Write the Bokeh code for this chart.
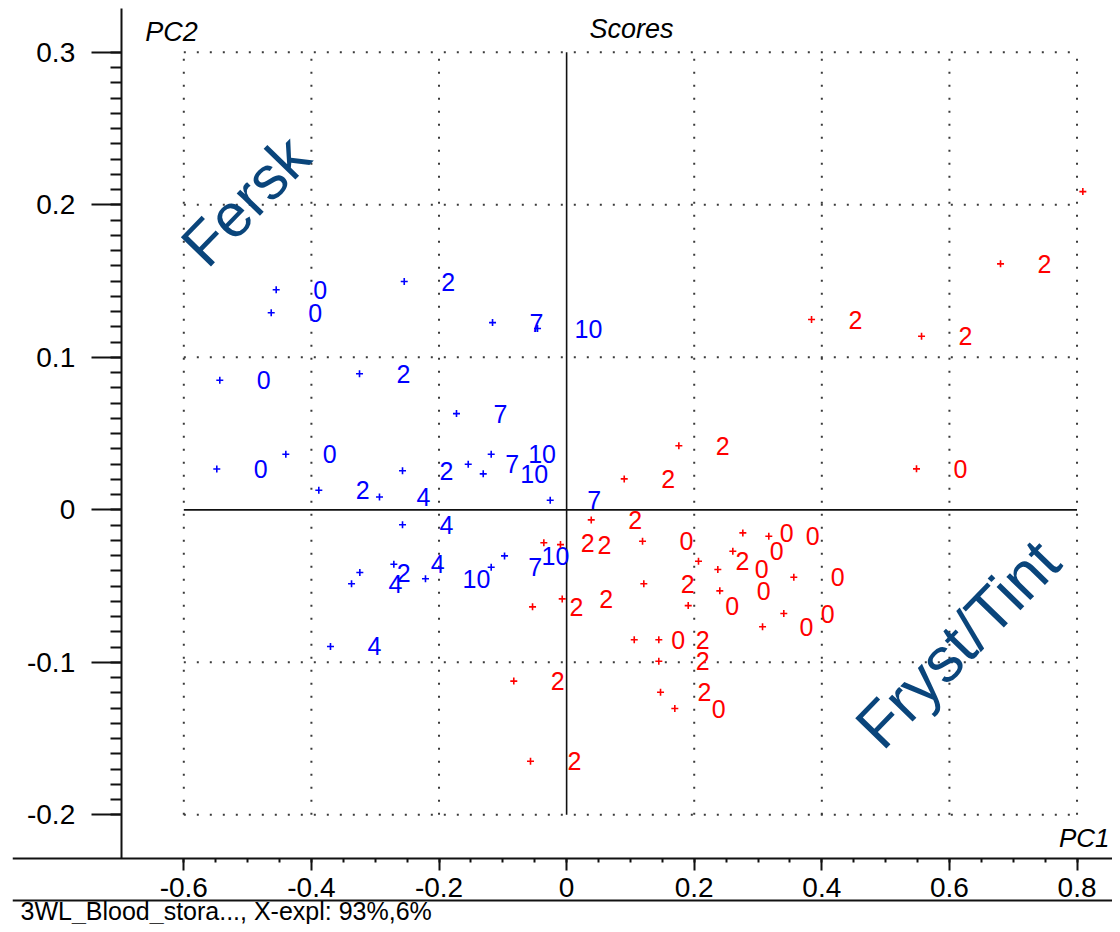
import numpy as np
from bokeh.plotting import figure
from bokeh.models import LinearAxis, FixedTicker, Range1d, Label, Span, ColumnDataSource
from bokeh.core.properties import value
from bokeh.embed import file_html
from bokeh.resources import INLINE

# ---------------- data (PCA scores, PC1 / PC2) ----------------
fresh_pc1 = [-0.4552, -0.4630, -0.2545, -0.5436, -0.3246, -0.4401, -0.5483, -0.2572,
             -0.3884, -0.2933, -0.1542, -0.1307, -0.1182, -0.0257, -0.2572, -0.3241,
             -0.3371, -0.2708, -0.2212, -0.1182, -0.0973, -0.3701, -0.1161, -0.0456,
             -0.1726]
fresh_pc2 = [0.1443, 0.1292, 0.1497, 0.0850, 0.0892, 0.0365, 0.0268, 0.0256,
             0.0129, 0.0084, 0.0299, 0.0236, 0.0365, 0.0063, -0.0098, -0.0411,
             -0.0485, -0.0357, -0.0452, -0.0376, -0.0302, -0.0896, 0.1228, 0.1189,
             0.0631]
fresh_names = ["0", "0", "2", "0", "2", "0", "0", "2",
               "2", "4", "7", "10", "10", "7", "4", "2",
               "4", "4", "10", "7", "10", "4", "7", "10",
               "7"]

frozen_pc1 = [0.8091, 0.6801, 0.3839, 0.5563, 0.1759, 0.0903, 0.5484, 0.0386,
              -0.0357, -0.0096, 0.1190, 0.2067, 0.2762, 0.3169, 0.2605, 0.2370,
              0.3561, 0.2401, 0.1210, 0.1906, 0.3404, 0.3071, -0.0069, -0.0534,
              0.1060, 0.1445, 0.1445, -0.0828, 0.1472, 0.1696, -0.0566]
frozen_pc2 = [0.2087, 0.1613, 0.1248, 0.1138, 0.0420, 0.0203, 0.0269, -0.0066,
              -0.0216, -0.0228, -0.0206, -0.0337, -0.0151, -0.0173, -0.0271, -0.0391,
              -0.0442, -0.0531, -0.0485, -0.0628, -0.0680, -0.0767, -0.0584, -0.0636,
              -0.0852, -0.0852, -0.0993, -0.1123, -0.1196, -0.1303, -0.1649]
frozen_names = ["2", "2", "2", "2", "2", "2", "0", "2",
                "2", "2", "0", "2", "0", "0", "0", "0",
                "0", "0", "2", "0", "0", "0", "2", "2",
                "0", "2", "2", "2", "2", "0", "2"]

x_ticks = [-0.6, -0.4, -0.2, 0.0, 0.2, 0.4, 0.6, 0.8]
x_tick_labels = ["-0.6", "-0.4", "-0.2", "0", "0.2", "0.4", "0.6", "0.8"]
y_ticks = [-0.2, -0.1, 0.0, 0.1, 0.2, 0.3]
y_tick_labels = ["-0.2", "-0.1", "0", "0.1", "0.2", "0.3"]
grid_x = [-0.6, -0.4, -0.2, 0.2, 0.4, 0.6, 0.8]
grid_y = [-0.2, -0.1, 0.1, 0.2, 0.3]

title_text = "Scores"
x_name = "PC1"
y_name = "PC2"
footer_text = "3WL_Blood_stora..., X-expl: 93%,6%"
group_notes = ["Fersk", "Fryst/Tint"]

# ---------------- layout constants ----------------
X0, X1 = -0.8685, 0.8556
Y0, Y1 = -0.2719, 0.3340
YAXIS_TOP = 0.3287
XAXIS_Y = -0.2285      # where the PC1 axis is drawn
YAXIS_X = -0.6981      # where the PC2 axis is drawn
FOOT_Y = -0.2562
BLUE = "#0000ff"
RED = "#ff0000"
NOTE = "#0a457b"
INK = "#000000"
FONT = "Liberation Sans"

p = figure(width=1112, height=924, x_range=Range1d(X0, X1), y_range=Range1d(Y0, Y1),
           output_backend="svg", toolbar_location=None,
           x_axis_location=None, y_axis_location=None,
           min_border_left=12, min_border_right=0, min_border_top=0, min_border_bottom=0)
p.xgrid.grid_line_color = None
p.ygrid.grid_line_color = None
p.outline_line_color = None
p.background_fill_color = "white"
p.border_fill_color = "white"

# dotted grid within the tick box
gx_lo, gx_hi = x_ticks[0], x_ticks[-1]
gy_lo, gy_hi = y_ticks[0], y_ticks[-1]
p.segment(x0=grid_x, y0=[gy_lo] * len(grid_x), x1=grid_x, y1=[gy_hi] * len(grid_x),
          line_color="#3a3a3a", line_width=2, line_dash="2 11")
p.segment(x0=[gx_lo] * len(grid_y), y0=grid_y, x1=[gx_hi] * len(grid_y), y1=grid_y,
          line_color="#3a3a3a", line_width=2, line_dash="2 11")
# zero lines
p.segment(x0=[0.0, gx_lo], y0=[gy_lo, 0.0], x1=[0.0, gx_hi], y1=[gy_hi, 0.0],
          line_color="#111111", line_width=1.6)

# axes
xaxis = LinearAxis(fixed_location=XAXIS_Y,
                   ticker=FixedTicker(ticks=x_ticks,
                                      minor_ticks=[float(v) for v in np.round(np.arange(-0.6, 0.8001, 0.05), 2)]),
                   major_label_overrides={t: s for t, s in zip(x_ticks, x_tick_labels)},
                   axis_line_width=2, axis_line_color="#111111",
                   major_tick_out=12, major_tick_in=0, minor_tick_out=4, minor_tick_in=0,
                   major_tick_line_width=2, minor_tick_line_width=2,
                   major_tick_line_color="#111111", minor_tick_line_color="#111111",
                   major_label_text_font=FONT, major_label_text_font_size="28px",
                   major_label_text_color=INK, major_label_standoff=8)
p.add_layout(xaxis, "below")

yaxis = LinearAxis(fixed_location=YAXIS_X, bounds=(XAXIS_Y, YAXIS_TOP),
                   ticker=FixedTicker(ticks=y_ticks,
                                      minor_ticks=[float(v) for v in np.round(np.arange(-0.2, 0.3001, 0.01), 2)]),
                   major_label_overrides={t: s for t, s in zip(y_ticks, y_tick_labels)},
                   axis_line_width=2, axis_line_color="#111111",
                   major_tick_out=30, major_tick_in=0, minor_tick_out=11, minor_tick_in=0,
                   major_tick_line_width=2, minor_tick_line_width=2,
                   major_tick_line_color="#111111", minor_tick_line_color="#111111",
                   major_label_text_font=FONT, major_label_text_font_size="28px",
                   major_label_text_color=INK, major_label_standoff=16,
                   major_label_orientation="horizontal")
p.add_layout(yaxis, "left")

# footer separator and text
p.add_layout(Span(location=FOOT_Y, dimension="width", line_color="#111111", line_width=2))
p.add_layout(Label(x=-0.8560, y=-0.2630, text=footer_text, text_font=FONT,
                   text_font_size="25px", text_baseline="middle", text_align="left",
                   text_color=INK))

# titles
p.add_layout(Label(x=0.1017, y=0.3150, text=title_text, text_font=FONT, text_font_style="italic",
                   text_font_size="27px", text_align="center", text_baseline="middle", text_color=INK))
p.add_layout(Label(x=-0.6193, y=0.3136, text=y_name, text_font=FONT, text_font_style="italic",
                   text_font_size="27px", text_align="center", text_baseline="middle", text_color=INK))
p.add_layout(Label(x=0.8510, y=-0.2155, text=x_name, text_font=FONT, text_font_style="italic",
                   text_font_size="26px", text_align="right", text_baseline="middle", text_color=INK))

# score points
for xs, ys, names, col in [(fresh_pc1, fresh_pc2, fresh_names, BLUE),
                           (frozen_pc1, frozen_pc2, frozen_names, RED)]:
    src = ColumnDataSource(dict(x=xs, y=ys, name=names))
    p.scatter("x", "y", source=src, marker="cross", size=7, line_color=col, line_width=1.6)
    p.text("x", "y", text="name", source=src, text_color=col, text_font=value(FONT),
           text_font_size="25px", text_align="left", text_baseline="middle", x_offset=37)

# group annotations
p.add_layout(Label(x=-0.5033, y=0.2028, text=group_notes[0], text_font=FONT, text_font_size="61px",
                   text_color=NOTE, text_align="center", text_baseline="middle", angle=0.80))
p.add_layout(Label(x=0.6127, y=-0.0877, text=group_notes[1], text_font=FONT, text_font_size="63px",
                   text_color=NOTE, text_align="center", text_baseline="middle", angle=0.80))

open("out.html", "w").write(file_html(p, INLINE))
